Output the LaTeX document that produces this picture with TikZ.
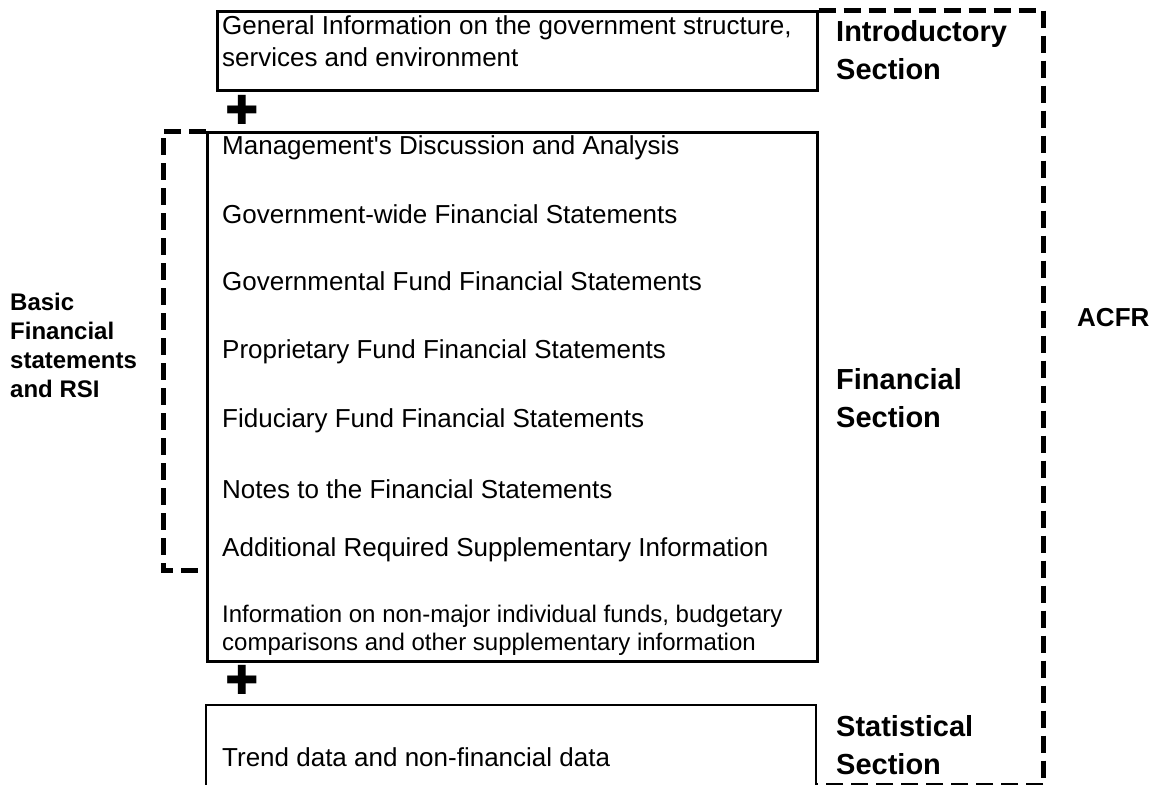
\documentclass[tikz,border=0pt]{standalone}
\usepackage{fontspec}
\setmainfont{Liberation Sans}
\newfontfamily\symfont{DejaVu Sans}
\usetikzlibrary{positioning}

\tikzset{
  box/.style={draw, line width=2.5pt, anchor=north west, inner sep=0pt},
  item/.style={anchor=west, inner sep=0pt, align=left, font=\fontsize{26}{32}\selectfont},
  smallitem/.style={item, font=\fontsize{24}{28}\selectfont},
  sect/.style={anchor=west, inner sep=0pt, align=left, font=\fontsize{29}{38}\selectfont\bfseries},
  frame/.style={line width=5pt, dash pattern=on 17pt off 8pt},
  plus/.style={inner sep=0pt, font=\fontsize{40}{40}\selectfont\symfont}
}

\begin{document}
\begin{tikzpicture}[x=1pt, y=-1pt]
  \useasboundingbox (0,0) rectangle (1163,785);

  % the three sections
  \node (intro) [box, minimum width=600pt, minimum height=79pt] at (216,10) {};
  \node (fin) [box, minimum width=610pt, minimum height=529pt] at (206,131) {};
  \draw[line width=2.5pt] (206,785) |- (816,705) -- (816,785);

  \node (gen) [item] at (222,41) {General Information on the government structure,\\services and environment};
  \node (plusa) [plus] at (242,110) {✚};

  \node (mda) [item] at (222,148) {Management\textquotesingle s Discussion and Analysis};
  \node (gwfs) [item] at (222,214) {Government-wide Financial Statements};
  \node (gffs) [item] at (222,281) {Governmental Fund Financial Statements};
  \node (pffs) [item] at (222,352) {Proprietary Fund Financial Statements};
  \node (fffs) [item] at (222,421) {Fiduciary Fund Financial Statements};
  \node (notes) [item] at (222,489) {Notes to the Financial Statements};
  \node (rsi) [item] at (222,550) {Additional Required Supplementary Information};
  \node (other) [smallitem] at (222,630) {Information on non-major individual funds, budgetary\\comparisons and other supplementary information};
  \node (plusb) [plus] at (242,680) {✚};

  \node (trend) [item] at (222,757) {Trend data and non-financial data};

  % section labels
  \node (introlbl) [sect] at (836,50) {Introductory\\Section};
  \node (finlbl) [sect] at (836,398) {Financial\\Section};
  \node (statlbl) [sect] at (836,745) {Statistical\\Section};
  \node (acfr) [sect, font=\fontsize{26}{32}\selectfont\bfseries] at (1077,318) {ACFR};
  \node (basic) [sect, font=\fontsize{24}{29}\selectfont\bfseries] at (10,345) {Basic\\Financial\\statements\\and RSI};

  % dashed brackets
  \coordinate (acfrtop) at (1043,10);
  \coordinate (acfrbot) at (1043,784);
  \coordinate (brkbot) at (163,570);
  \draw[frame] (intro.north east) -- (acfrtop) -- (acfrbot);
  \draw[line width=1.5pt, dash pattern=on 17pt off 8pt] (acfrbot) -- (816,784);
  \draw[frame] (fin.north west) -| (brkbot) -- (fin.west |- brkbot);
\end{tikzpicture}
\end{document}
